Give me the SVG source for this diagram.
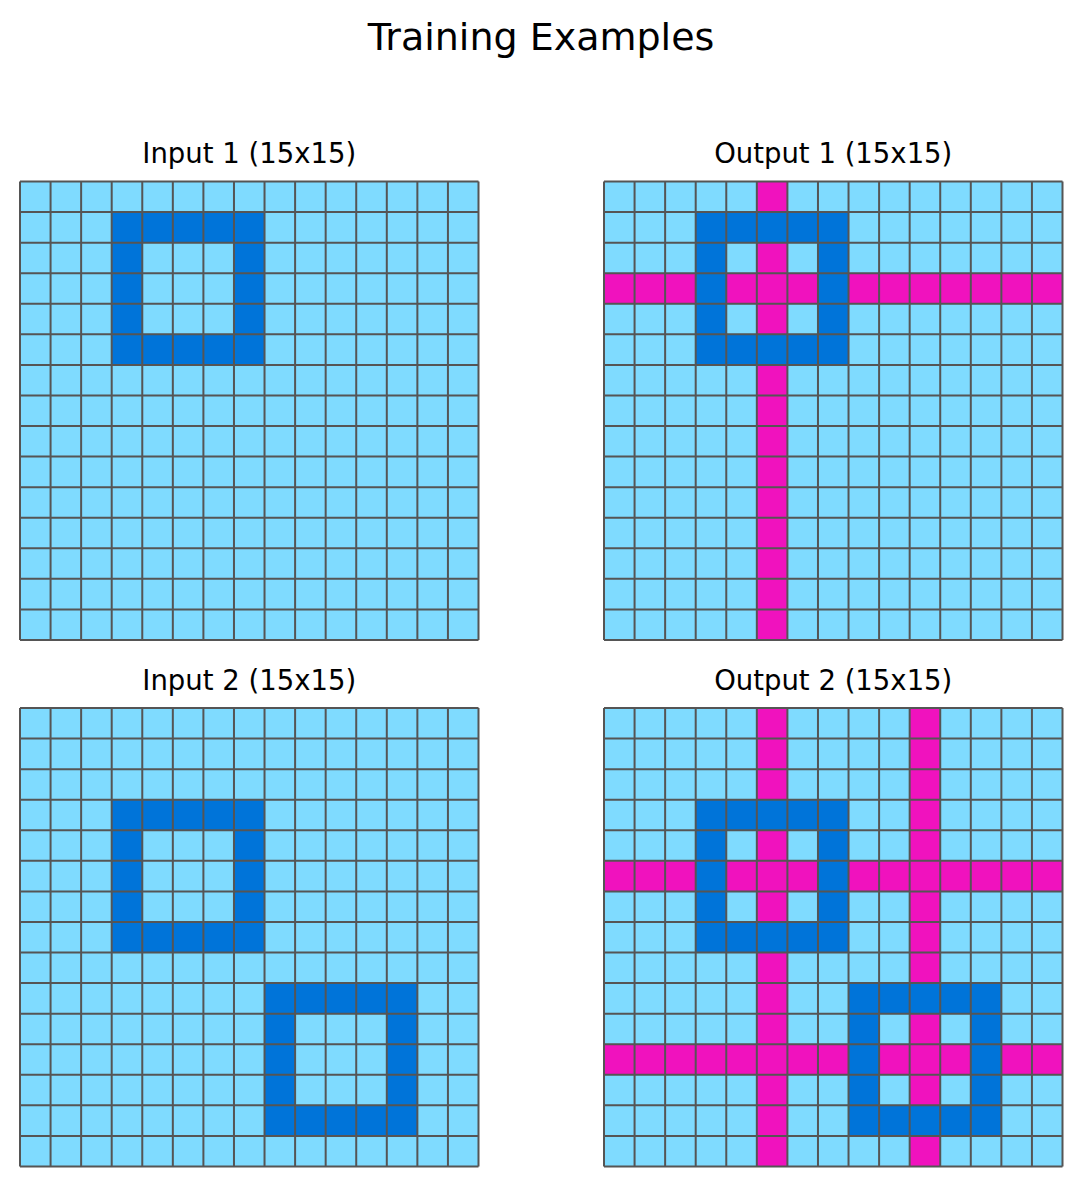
<svg xmlns="http://www.w3.org/2000/svg" xmlns:xlink="http://www.w3.org/1999/xlink" width="1081" height="1186" viewBox="0 0 1081 1186">
<style>
.bg{fill:#7FDBFF}
.b{fill:#0074D9}
.m{fill:#F012BE}
.gl{fill:none;stroke:#555555;stroke-width:2}
.t{font-family:"DejaVu Sans",sans-serif;fill:#000;text-anchor:middle}
</style>
<defs>
<path id="lines" class="gl" d="M0 0V458.5M30.57 0V458.5M61.13 0V458.5M91.7 0V458.5M122.27 0V458.5M152.83 0V458.5M183.4 0V458.5M213.97 0V458.5M244.53 0V458.5M275.1 0V458.5M305.67 0V458.5M336.23 0V458.5M366.8 0V458.5M397.37 0V458.5M427.93 0V458.5M458.5 0V458.5M0 0H458.5M0 30.57H458.5M0 61.13H458.5M0 91.7H458.5M0 122.27H458.5M0 152.83H458.5M0 183.4H458.5M0 213.97H458.5M0 244.53H458.5M0 275.1H458.5M0 305.67H458.5M0 336.23H458.5M0 366.8H458.5M0 397.37H458.5M0 427.93H458.5M0 458.5H458.5"/>
<g id="box">
<rect class="b" x="0" y="0" width="152.83" height="30.57"/>
<rect class="b" x="0" y="30.57" width="30.57" height="91.7"/>
<rect class="b" x="122.27" y="30.57" width="30.57" height="91.7"/>
<rect class="b" x="0" y="122.27" width="152.83" height="30.57"/>
</g>
</defs>
<rect width="1081" height="1186" fill="#fff"/>
<text class="t" x="541" y="50" font-size="38">Training Examples</text>
<g id="input1">
<text class="t" x="249.25" y="163" font-size="27.5">Input 1 (15x15)</text>
<g transform="translate(20,181.5)">
<rect class="bg" width="458.5" height="458.5"/>
<use xlink:href="#box" href="#box" x="91.7" y="30.57"/>
<use xlink:href="#lines" href="#lines"/>
</g>
</g>
<g id="output1">
<text class="t" x="833.25" y="163" font-size="27.5">Output 1 (15x15)</text>
<g transform="translate(604,181.5)">
<rect class="bg" width="458.5" height="458.5"/>
<rect class="m" x="0" y="91.7" width="458.5" height="30.57"/>
<rect class="m" x="152.83" y="0" width="30.57" height="458.5"/>
<use xlink:href="#box" href="#box" x="91.7" y="30.57"/>
<use xlink:href="#lines" href="#lines"/>
</g>
</g>
<g id="input2">
<text class="t" x="249.25" y="690" font-size="27.5">Input 2 (15x15)</text>
<g transform="translate(20,708)">
<rect class="bg" width="458.5" height="458.5"/>
<use xlink:href="#box" href="#box" x="91.7" y="91.7"/>
<use xlink:href="#box" href="#box" x="244.53" y="275.1"/>
<use xlink:href="#lines" href="#lines"/>
</g>
</g>
<g id="output2">
<text class="t" x="833.25" y="690" font-size="27.5">Output 2 (15x15)</text>
<g transform="translate(604,708)">
<rect class="bg" width="458.5" height="458.5"/>
<rect class="m" x="0" y="152.83" width="458.5" height="30.57"/>
<rect class="m" x="0" y="336.23" width="458.5" height="30.57"/>
<rect class="m" x="152.83" y="0" width="30.57" height="458.5"/>
<rect class="m" x="305.67" y="0" width="30.57" height="458.5"/>
<use xlink:href="#box" href="#box" x="91.7" y="91.7"/>
<use xlink:href="#box" href="#box" x="244.53" y="275.1"/>
<use xlink:href="#lines" href="#lines"/>
</g>
</g>
<g id="connectors"/>
</svg>
